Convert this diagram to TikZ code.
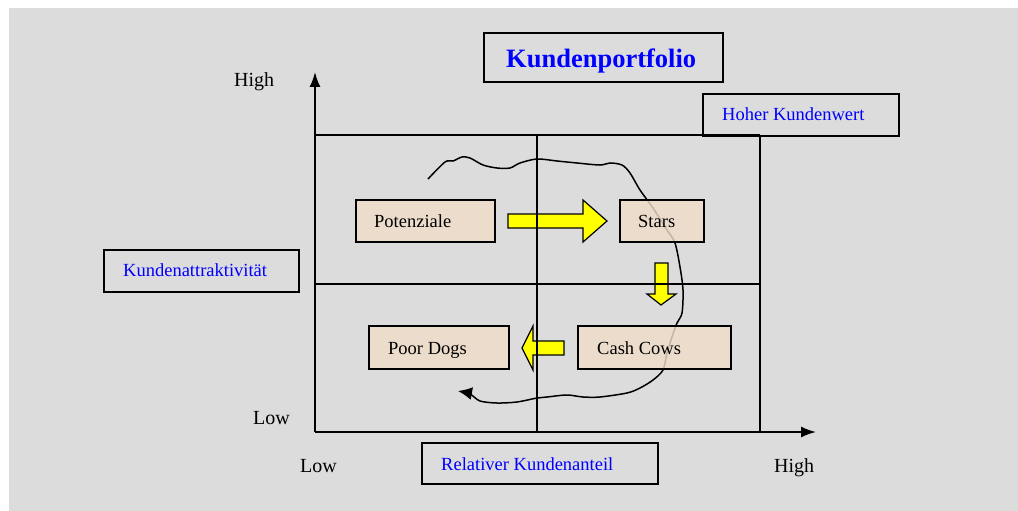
\documentclass[tikz,border=0pt]{standalone}
\usepackage{fontspec}
\setmainfont{Liberation Serif}
\usetikzlibrary{arrows.meta}
\definecolor{bg}{RGB}{220,220,220}
\definecolor{peach}{RGB}{240,220,200}
\definecolor{lblue}{RGB}{0,0,255}
\definecolor{yel}{RGB}{255,255,0}
\tikzset{
  frame/.style={draw=black,line width=1.9pt},
  cell/.style={draw=black,line width=1.9pt,fill=peach,fill opacity=0.82},
  gridline/.style={draw=black,line width=1.4pt},
  axis/.style={draw=black,line width=1.7pt,-{Latex[length=15pt,width=11pt]}},
  blk/.style={draw=black,line width=1.2pt,fill=yel,line join=miter},
  bluetxt/.style={anchor=base west,inner sep=0pt,text=lblue,font=\fontsize{18.5}{20}\selectfont},
  boxtxt/.style={anchor=base west,inner sep=0pt,text=black,font=\fontsize{18.5}{20}\selectfont},
  axtxt/.style={anchor=base west,inner sep=0pt,text=black,font=\fontsize{20}{22}\selectfont},
  freehand/.style={draw=black,line width=1.5pt,-{Latex[length=14pt,width=13pt]}}
}
\begin{document}
\begin{tikzpicture}[x=1pt,y=-1pt]
\useasboundingbox (0,0) rectangle (1018,511);
\fill[bg] (9,8) rectangle (1018,511);

% title
\draw[frame] (484,33) rectangle (723,82);
\node[anchor=base west,inner sep=0pt,text=lblue,font=\bfseries\fontsize{26.5}{28}\selectfont] (title) at (506,68) {Kundenportfolio};

% label boxes
\draw[frame] (703,94) rectangle (899,136);
\node[bluetxt] (hkw) at (722,121) {Hoher Kundenwert};
\draw[frame] (104,250) rectangle (299,292);
\node[bluetxt] (ka) at (123,276) {Kundenattraktivität};
\draw[frame] (422,443) rectangle (658,484);
\node[bluetxt] (rk) at (441,470) {Relativer Kundenanteil};

% axes
\coordinate (O) at (315,432);
\coordinate (ytop) at (315,72);
\coordinate (xright) at (816,432);
\draw[axis] (O) -- (ytop);
\draw[axis] (O) -- (xright);

% axis labels
\node[axtxt] (hy) at (234,86) {High};
\node[axtxt] (ly) at (253,424) {Low};
\node[axtxt] (lx) at (300,472) {Low};
\node[axtxt] (hx) at (774,472) {High};

% block arrows
\draw[blk] (508,214) -- (583,214) -- (583,200) -- (607,221) -- (583,242) -- (583,228) -- (508,228) -- cycle;
\draw[blk] (655,263) -- (668,263) -- (668,294) -- (676,294) -- (661,305) -- (647,294) -- (655,294) -- cycle;
\draw[blk] (564,341) -- (533,341) -- (533,326) -- (522,348) -- (533,370) -- (533,355) -- (564,355) -- cycle;

% grid
\draw[gridline] (315,135) -- (760,135);
\draw[gridline] (315,284) -- (760,284);
\draw[gridline] (537,135) -- (537,432);
\draw[gridline] (760,135) -- (760,432);

% freehand cycle
\draw[freehand] plot[smooth,tension=0.5] coordinates {(428,179) (445,162) (453,161) (462,157) (470,158) (483,165) (497,168) (510,168) (520,163) (537,159) (557,161) (577,163) (600,165) (610,163) (622,165) (630,173) (640,190) (653,208) (667,230) (675,243) (680,267) (683,290) (682,313) (677,323) (672,337) (667,353) (663,370) (653,380) (640,388) (627,393) (600,397) (583,397) (567,395) (547,397) (537,398) (517,402) (497,403) (480,401) (470,394) (458,391)};

% quadrant boxes
\draw[cell] (356,200) rectangle (495,242);
\node[boxtxt] (pot) at (374,227) {Potenziale};
\draw[cell] (620,200) rectangle (704,242);
\node[boxtxt] (stars) at (638,227) {Stars};
\draw[cell] (369,326) rectangle (509,369);
\node[boxtxt] (dogs) at (388,354) {Poor Dogs};
\draw[cell] (578,326) rectangle (731,369);
\node[boxtxt] (cows) at (597,354) {Cash Cows};
\end{tikzpicture}
\end{document}
